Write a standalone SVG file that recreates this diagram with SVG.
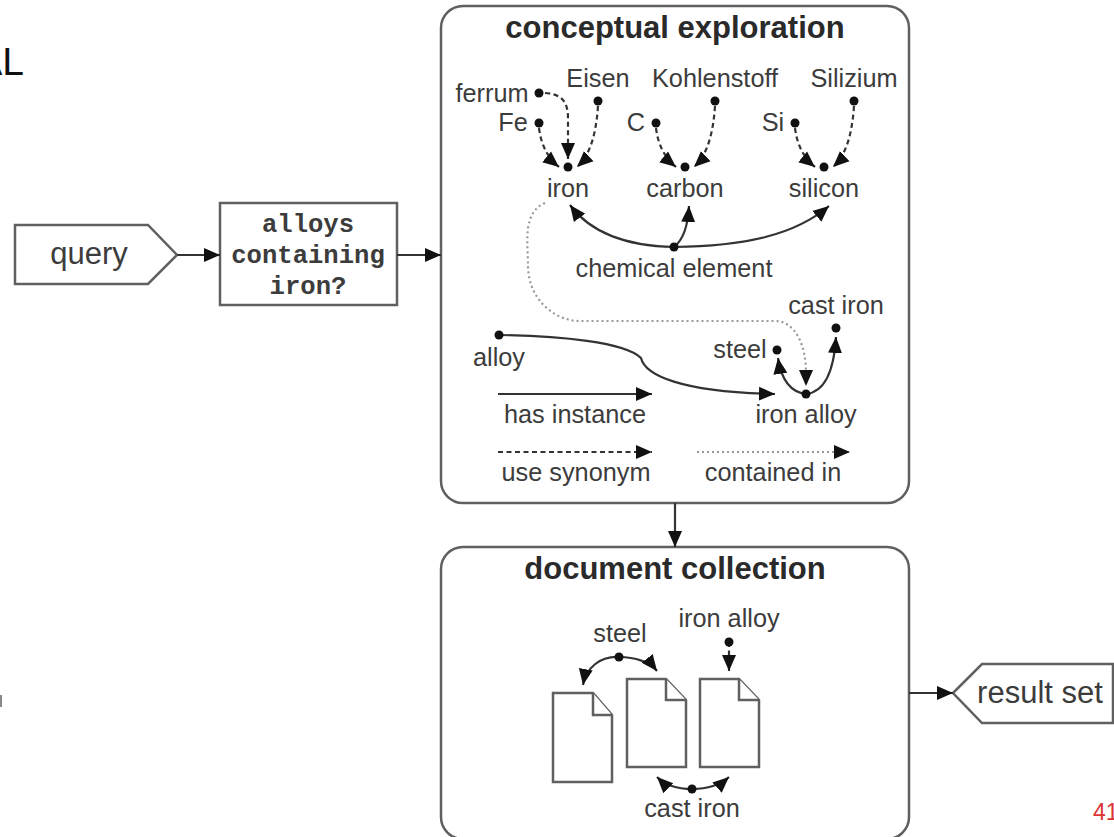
<svg xmlns="http://www.w3.org/2000/svg" width="1114" height="837" viewBox="0 0 1114 837">
<style>
text{font-family:"Liberation Sans",Arial,sans-serif;fill:#3c3c3c;font-size:25.3px;text-anchor:middle}
.t{font-size:31px;font-weight:bold;fill:#2a2a2a}
.m{font-family:"Liberation Mono","Courier New",monospace;font-weight:bold;font-size:25.6px}
.b{fill:#fff;stroke:#606060;stroke-width:2.5}
.d{fill:#fff;stroke:#606060;stroke-width:2.5}
.c{fill:none;stroke:#333;stroke-width:2.2}
.s{stroke-dasharray:5 3.5}
.o{stroke:#999;stroke-dasharray:2 3}
.a{marker-end:url(#ah)}
circle{fill:#111}
</style>
<defs>
<marker id="ah" markerUnits="userSpaceOnUse" viewBox="0 0 16 16" refX="16" refY="8" markerWidth="16" markerHeight="16" orient="auto"><path d="M0 1L16 8L0 15Z" fill="#111"/></marker>
</defs>
<rect width="1114" height="837" fill="#fff"/>
<rect x="0" y="695" width="2" height="12" fill="#888"/>
<text x="24" y="75" style="font-size:39px;text-anchor:end;fill:#111">AL</text>
<g id="query"><path class="b" d="M15 225H148L177 255L148 284H15Z"/><text x="89" y="264" style="font-size:31px">query</text></g>
<g id="question"><rect class="b" x="220" y="203" width="177" height="102"/><text class="m" x="308" y="232">alloys</text><text class="m" x="308" y="263">containing</text><text class="m" x="308" y="294">iron?</text></g>
<g id="exploration"><rect class="b" x="441" y="6" width="468" height="497" rx="22"/><text class="t" x="675" y="38">conceptual exploration</text></g>
<g id="collection"><rect class="b" x="441" y="547" width="468" height="292" rx="22"/><text class="t" x="675" y="579">document collection</text></g>
<g id="result"><path class="b" d="M953 693L982 664H1113V723H982Z"/><text x="1040" y="703" style="font-size:31px">result set</text></g>
<g id="labels">
<text x="492" y="102">ferrum</text><text x="598" y="87">Eisen</text><text x="715" y="87">Kohlenstoff</text><text x="854" y="87">Silizium</text>
<text x="513" y="131">Fe</text><text x="636" y="131">C</text><text x="773" y="131">Si</text>
<text x="568" y="197">iron</text><text x="685" y="197">carbon</text><text x="824" y="197">silicon</text>
<text x="674" y="277">chemical element</text>
<text x="836" y="314">cast iron</text><text x="740" y="358">steel</text><text x="499" y="366">alloy</text>
<text x="575" y="423">has instance</text><text x="806" y="423">iron alloy</text>
<text x="576" y="481">use synonym</text><text x="773" y="481">contained in</text>
<text x="620" y="642">steel</text><text x="729" y="627">iron alloy</text><text x="692" y="817">cast iron</text>
</g>
<g id="documents">
<path class="d" d="M553 693H593L612 715V782H553Z"/><path class="d" d="M593 693V715H612"/>
<path class="d" d="M627 679H666L686 700V767H627Z"/><path class="d" d="M666 679V700H686"/>
<path class="d" d="M700 679H739L759 700V767H700Z"/><path class="d" d="M739 679V700H759"/>
</g>
<g id="connectors">
<path class="c a" d="M177 255H220"/><path class="c a" d="M397 255H441"/><path class="c a" d="M675 503V547"/><path class="c a" d="M909 693H953"/>
<path class="c s a" d="M539 128C541 145 548 158 559 167"/>
<path class="c s a" d="M545 93C560 94 568 100 568 118V159"/>
<path class="c s a" d="M598 106C596 135 590 155 577 167"/>
<path class="c s a" d="M656 128C658 145 665 158 676 167"/>
<path class="c s a" d="M715 106C713 135 707 155 694 167"/>
<path class="c s a" d="M795 128C797 145 804 158 815 167"/>
<path class="c s a" d="M854 106C852 135 846 155 833 167"/>
<path class="c a" d="M674 247C625 246 590 232 570 205"/>
<path class="c a" d="M674 247C683 240 688 225 689 206"/>
<path class="c a" d="M674 247C745 246 795 235 829 206"/>
<path class="c o" d="M545 203C522 212 528 245 528 265C528 300 555 321 580 321H775C795 321 806 345 806 372"/>
<path class="c o a" d="M806 372V386"/>
<path class="c a" d="M499 335C560 336 625 342 641 358C645 375 680 392 775 394"/>
<path class="c a" d="M806 394C790 392 781 378 778 358"/>
<path class="c a" d="M806 394C825 392 834 370 836 337"/>
<path class="c a" d="M498 394H652"/><path class="c s a" d="M498 452H652"/><path class="c o a" d="M697 452H850"/>
<path class="c a" d="M619 657C600 656 586 668 583 685"/>
<path class="c a" d="M619 657C635 657 650 662 657 671"/>
<path class="c s a" d="M729 642V671"/>
<path class="c a" d="M692 789C678 789 665 785 657 777"/>
<path class="c a" d="M692 789C706 789 720 785 729 777"/>
</g>
<g id="dots">
<circle cx="539" cy="93" r="4.5"/><circle cx="598" cy="101" r="4.5"/><circle cx="539" cy="123" r="4.5"/><circle cx="568" cy="167" r="4.5"/>
<circle cx="656" cy="123" r="4.5"/><circle cx="715" cy="101" r="4.5"/><circle cx="685" cy="167" r="4.5"/>
<circle cx="795" cy="123" r="4.5"/><circle cx="854" cy="101" r="4.5"/><circle cx="824" cy="167" r="4.5"/>
<circle cx="674" cy="247" r="4.5"/><circle cx="499" cy="335" r="4.5"/><circle cx="777" cy="350" r="4.5"/><circle cx="836" cy="328" r="4.5"/><circle cx="806" cy="394" r="4.5"/>
<circle cx="619" cy="657" r="4.5"/><circle cx="729" cy="642" r="4.5"/><circle cx="692" cy="789" r="4.5"/>
</g>
<text x="1093" y="820" style="font-size:23px;text-anchor:start;fill:#d33">41</text>
</svg>
